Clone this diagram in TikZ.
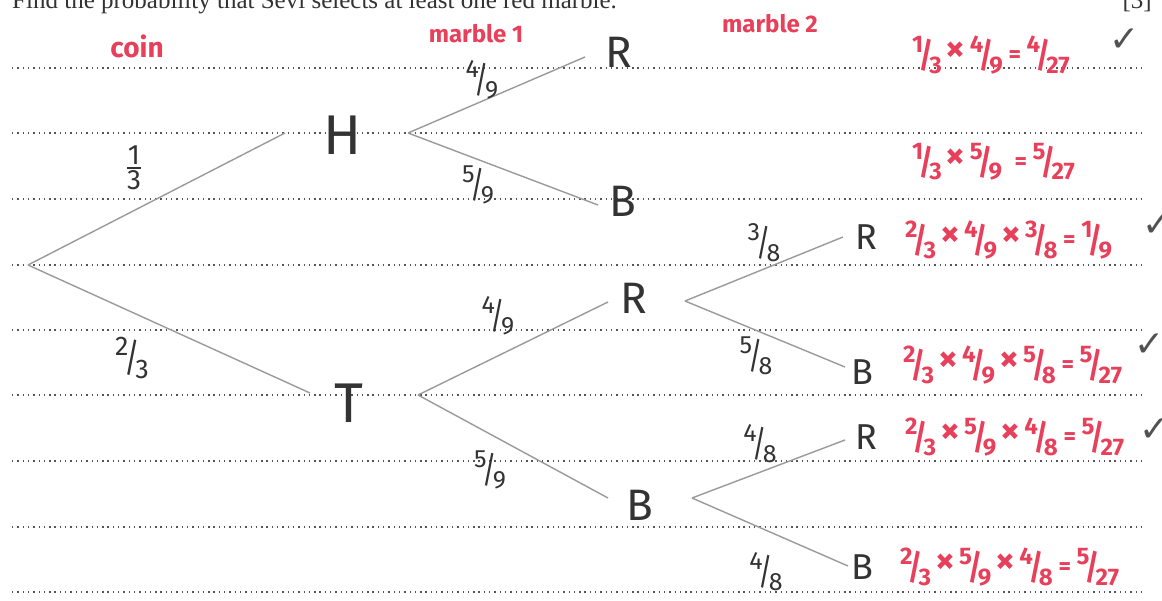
\documentclass[tikz,border=0pt]{standalone}
\usepackage{fontspec}
\setmainfont{Liberation Serif}
\newfontfamily\hand{Fira Sans}
\newfontfamily\sym{DejaVu Sans}
\newcommand{\fr}[2]{\raisebox{0.8ex}{#1}\kern-0.16em\raisebox{-0.35ex}{\scalebox{1.1}[1.45]{/}}\kern-0.16em\raisebox{-0.8ex}{#2}}
\newcommand{\vfr}[2]{$\vcenter{\hbox{${\mbox{#1}\above1.6pt\mbox{#2}}$}}$}
\newcommand{\tm}{\,\raisebox{0.1ex}{\scalebox{1.6}{×}}\,}
\definecolor{pen}{HTML}{E8405A}
\definecolor{ink}{HTML}{333333}
\definecolor{branch}{HTML}{9A9A9A}
\definecolor{rule}{HTML}{555555}
\begin{document}
\begin{tikzpicture}[x=1pt,y=-1pt,
  dotrule/.style={rule, line width=1.4pt, dash pattern=on 1.4pt off 3.9pt},
  br/.style={branch, line width=1.4pt},
  letter/.style={ink, font=\hand\fontsize{44}{44}\selectfont, inner sep=0pt},
  smallletter/.style={ink, font=\hand\fontsize{36}{36}\selectfont, inner sep=0pt},
  bigletter/.style={ink, font=\hand\fontsize{56}{56}\selectfont, inner sep=0pt},
  prob/.style={ink, font=\hand\fontsize{25}{25}\selectfont, inner sep=0pt},
  redlab/.style={pen, font=\hand\bfseries\fontsize{28}{28}\selectfont, inner sep=0pt},
  calc/.style={pen, font=\hand\bfseries\fontsize{24}{24}\selectfont, inner sep=0pt, anchor=west},
  tick/.style={ink!85, font=\sym\fontsize{36}{36}\selectfont, inner sep=0pt}]
\useasboundingbox (0,0) rectangle (1162,601);
\clip (0,0) rectangle (1162,601);
\fill[white] (0,0) rectangle (1162,601);
% question text (cut off at top)
\node[anchor=base west, inner sep=0pt, font=\fontsize{25}{25}\selectfont, ink] (q) at (12,9) {Find the probability that Sevi selects at least one red marble.};
\node[anchor=base east, inner sep=0pt, font=\fontsize{25}{25}\selectfont, ink] (mk) at (1152,9) {[3]};
% dotted rules
\foreach \yy in {68,133,199,265,330,395,461,527,592}
  \draw[dotrule] (12,\yy) -- (1146,\yy);
% tree coordinates
\coordinate (O) at (28,265);
\coordinate (Hin) at (285,133);
\coordinate (Tin) at (310,393);
\coordinate (Hout) at (408,133);
\coordinate (Tout) at (418,395);
\coordinate (HRin) at (585,57);
\coordinate (HBin) at (598,205);
\coordinate (TRin) at (608,302);
\coordinate (TBin) at (608,498);
\coordinate (TRout) at (685,301);
\coordinate (TBout) at (692,498);
\coordinate (RRin) at (843,237);
\coordinate (RBin) at (845,367);
\coordinate (BRin) at (845,440);
\coordinate (BBin) at (848,566);
% branches
\draw[br] (O) -- (Hin);
\draw[br] (O) -- (Tin);
\draw[br] (Hout) -- (HRin);
\draw[br] (Hout) -- (HBin);
\draw[br] (Tout) -- (TRin);
\draw[br] (Tout) -- (TBin);
\draw[br] (TRout) -- (RRin);
\draw[br] (TRout) -- (RBin);
\draw[br] (TBout) -- (BRin);
\draw[br] (TBout) -- (BBin);
% outcome letters
\node[bigletter] (H) at (343,135) {H};
\node[bigletter] (T) at (349,403) {T};
\node[letter] (HR) at (619,52) {R};
\node[letter] (HB) at (623,201) {B};
\node[letter] (TR) at (634,298) {R};
\node[letter] (TB) at (640,505) {B};
\node[smallletter] (RR) at (866,237) {R};
\node[smallletter] (RB) at (862,372) {B};
\node[smallletter] (BR) at (866,437) {R};
\node[smallletter] (BB) at (862,567) {B};
% branch probabilities
\node[prob, font=\hand\fontsize{28}{28}\selectfont] (pH) at (134,168) {\vfr{1}{3}};
\node[prob, font=\hand\fontsize{27}{27}\selectfont] (pT) at (132,358) {\fr{2}{3}};
\node[prob] (pHR) at (482,80) {\fr{4}{9}};
\node[prob] (pHB) at (478,185) {\fr{5}{9}};
\node[prob] (pTR) at (498,316) {\fr{4}{9}};
\node[prob] (pTB) at (490,470) {\fr{5}{9}};
\node[prob] (pRR) at (764,243) {\fr{3}{8}};
\node[prob] (pRB) at (756,356) {\fr{5}{8}};
\node[prob] (pBR) at (760,444) {\fr{4}{8}};
\node[prob] (pBB) at (766,572) {\fr{4}{8}};
% red headings
\node[redlab] (coin) at (137,46) {coin};
\node[redlab, font=\hand\bfseries\fontsize{24}{24}\selectfont] (m1) at (476,34) {marble 1};
\node[redlab, font=\hand\bfseries\fontsize{24}{24}\selectfont] (m2) at (770,24) {marble 2};
% calculations
\node[calc] (c1) at (912,55) {\fr{1}{3}\tm\fr{4}{9} = \fr{4}{27}};
\node[calc] (c2) at (912,162) {\fr{1}{3}\tm\fr{5}{9}\; = \fr{5}{27}};
\node[calc] (c3) at (905,240) {\fr{2}{3}\tm\fr{4}{9}\tm\fr{3}{8} = \fr{1}{9}};
\node[calc] (c4) at (903,365) {\fr{2}{3}\tm\fr{4}{9}\tm\fr{5}{8} = \fr{5}{27}};
\node[calc] (c5) at (905,437) {\fr{2}{3}\tm\fr{5}{9}\tm\fr{4}{8} = \fr{5}{27}};
\node[calc] (c6) at (900,567) {\fr{2}{3}\tm\fr{5}{9}\tm\fr{4}{8} = \fr{5}{27}};
% check marks
\node[tick] (t1) at (1125,40) {✓};
\node[tick] (t3) at (1158,225) {✓};
\node[tick] (t4) at (1150,345) {✓};
\node[tick] (t5) at (1155,430) {✓};
\end{tikzpicture}
\end{document}
